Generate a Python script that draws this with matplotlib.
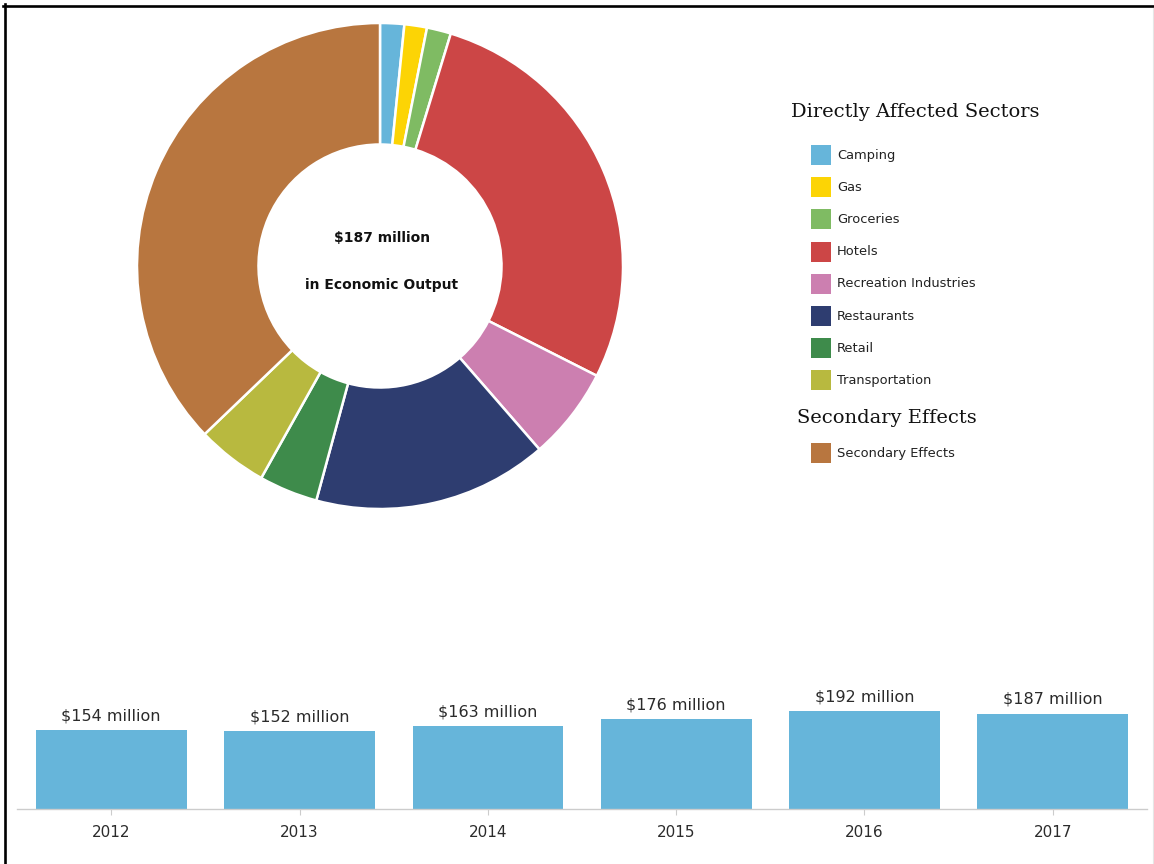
import matplotlib
matplotlib.use("Agg")
import matplotlib.pyplot as plt
from matplotlib.lines import Line2D
from matplotlib.patches import Rectangle

# ---- data -------------------------------------------------------------
sectors = ["Camping", "Gas", "Groceries", "Hotels", "Recreation Industries",
           "Restaurants", "Retail", "Transportation"]
secondary = ["Secondary Effects"]
output_2017 = [3.0, 2.8, 3.0, 51.9, 11.5, 29.2, 7.3, 8.8, 69.5]   # $ million
slice_colors = ["#66b5da", "#fcd405", "#7fbb63", "#cc4646", "#cc7fb0",
                "#2e3d70", "#3e8b4b", "#b8b93f", "#b8763f"]

years = ["2012", "2013", "2014", "2015", "2016", "2017"]
totals = [154, 152, 163, 176, 192, 187]          # $ million
bar_color = "#66b5da"

center_lines = ["$187 million", "in Economic Output"]
group_titles = ["Directly Affected Sectors", "Secondary Effects"]

# ---- figure in pixel units -------------------------------------------
W, H = 1154, 864
fig = plt.figure(figsize=(W / 100, H / 100), dpi=100)
fig.patch.set_facecolor("white")


def fx(x):
    return x / W


def fy(y):
    return 1 - y / H


# frame lines
fig.add_artist(Line2D([fx(3), fx(1154)], [fy(5.5), fy(5.5)], color="black", lw=1.9))
fig.add_artist(Line2D([fx(4.5), fx(4.5)], [fy(4), fy(864)], color="black", lw=1.9))
fig.add_artist(Line2D([fx(1152.5), fx(1152.5)], [fy(8), fy(864)], color="#e6e6e6", lw=0.8))

# ---- donut ------------------------------------------------------------
cx, cy, r_out = 380, 266, 243
half = 250
ax = fig.add_axes([fx(cx - half), fy(cy + half), 2 * half / W, 2 * half / H])
ax.pie(output_2017, colors=slice_colors, startangle=90, counterclock=False,
       radius=1.0, wedgeprops=dict(width=0.5, edgecolor="white", linewidth=1.8))
lim = half / r_out
ax.set_xlim(-lim, lim)
ax.set_ylim(-lim, lim)
ax.set_aspect("equal")
ax.axis("off")

fig.text(fx(382), fy(238), center_lines[0], ha="center", va="center",
         fontsize=10, fontweight="bold", color="#111111")
fig.text(fx(382), fy(285), center_lines[1], ha="center", va="center",
         fontsize=10, fontweight="bold", color="#111111")

# ---- legend -----------------------------------------------------------
title_kw = dict(family="DejaVu Serif", fontsize=14, color="#111111", va="center", ha="left")
item_kw = dict(fontsize=9.4, color="#222222", va="center", ha="left")

fig.text(fx(791), fy(112), group_titles[0], **title_kw)
row_y = [155 + i * 32.2 for i in range(len(sectors))]
for name, col, y in zip(sectors, slice_colors[:8], row_y):
    fig.add_artist(Rectangle((fx(811), fy(y + 10)), 20 / W, 20 / H,
                             facecolor=col, edgecolor="none", transform=fig.transFigure))
    fig.text(fx(837), fy(y), name, **item_kw)

fig.text(fx(797), fy(418), group_titles[1], **title_kw)
fig.add_artist(Rectangle((fx(811), fy(453 + 10)), 20 / W, 20 / H,
                         facecolor=slice_colors[8], edgecolor="none", transform=fig.transFigure))
fig.text(fx(837), fy(453), secondary[0], **item_kw)

# ---- yearly totals bar chart -----------------------------------------
bx = fig.add_axes([fx(17), fy(809), 1130 / W, 200 / H])
xs = range(len(years))
bx.bar(xs, totals, width=0.8, color=bar_color)
bx.set_xlim(-0.5, len(years) - 0.5)
bx.set_ylim(0, 392)
for s in ["top", "left", "right"]:
    bx.spines[s].set_visible(False)
bx.spines["bottom"].set_color("#cccccc")
bx.spines["bottom"].set_linewidth(1.0)
bx.set_yticks([])
bx.set_xticks(list(xs))
bx.set_xticklabels(years)
bx.tick_params(axis="x", length=4, color="#cccccc", pad=7.5, labelsize=11, labelcolor="#2b2b2b")
bx.patch.set_alpha(0)
for x, v in zip(xs, totals):
    bx.annotate(f"${v} million", (x, v), xytext=(0, 4.8), textcoords="offset points",
                ha="center", va="bottom", fontsize=11.5, color="#2b2b2b")

fig.savefig("out.png", dpi=100, facecolor="white")
